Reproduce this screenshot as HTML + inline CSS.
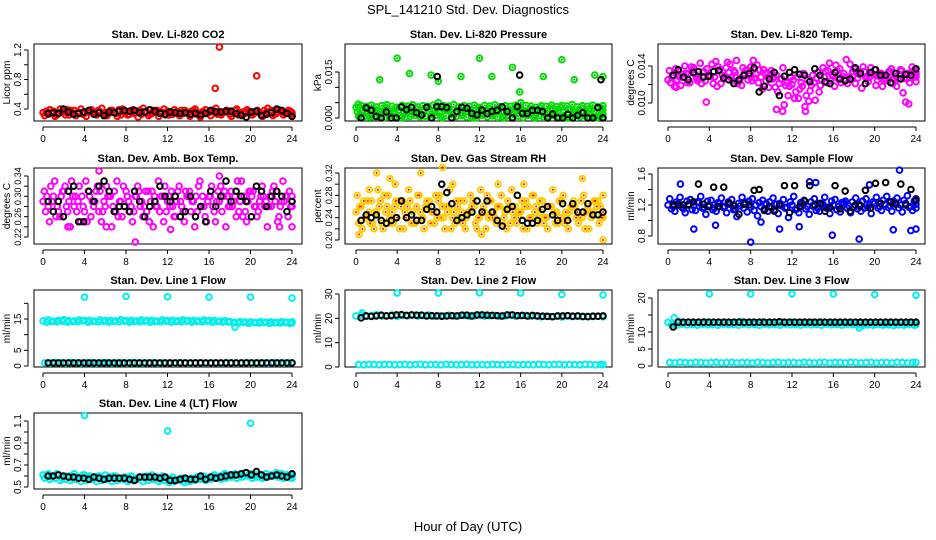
<!DOCTYPE html>
<html><head><meta charset="utf-8"><style>
body{margin:0;background:#fff}
svg{display:block;font-family:"Liberation Sans",sans-serif}
</style></head><body>
<svg id="c" width="936" height="540" viewBox="0 0 936 540">
<text x="468" y="14" font-size="13" text-anchor="middle">SPL_141210  Std. Dev. Diagnostics</text>
<text x="468" y="531" font-size="13" text-anchor="middle">Hour of Day (UTC)</text>
</svg>
<script>
// ---------- data ----------
const xTicks = [0,4,8,12,16,20,24];
const co2Red = [0.35,0.33,0.37,0.34,0.36,0.32,0.38,0.35,0.34,0.37,0.33,0.36,0.35,0.38,0.34,0.32,0.36,0.37,0.35,0.33,0.36,0.34,0.38,0.35,0.37,0.33,0.36,0.34,0.35,0.38,0.32,0.36,0.35,0.37,0.34,0.36,0.33,0.38,0.35,0.34,0.36,0.37,0.33,0.35,0.38,0.34,0.36,0.35,0.33];
const co2Red2 = [0.31,0.39,0.30,0.40,0.32,0.38,0.31,0.40,0.30,0.39,0.32,0.41,0.31,0.38,0.30,0.40,0.32,0.39,0.29,0.41,0.31,0.38,0.30,0.40,0.32,0.39,0.31,0.38,0.30,0.40,0.29,0.39,0.31,0.41,0.32,0.38,0.30,0.40,0.31,0.39,0.32,0.38,0.30,0.41,0.31,0.39,0.32,0.38,0.30];
const co2Red3 = [0.37,0.34,0.32,0.36,0.39,0.34,0.35,0.33,0.37,0.35,0.38,0.33,0.34,0.36,0.39,0.35,0.33,0.34,0.38,0.36,0.33,0.37,0.35,0.32,0.34,0.36,0.38,0.35,0.37,0.33,0.36,0.34,0.38,0.33,0.35,0.37,0.34,0.32,0.36,0.37,0.34,0.35,0.38,0.36,0.33,0.37,0.34,0.37,0.35];
const co2OutX = [16.6,17,20.6];
const co2OutY = [0.68,1.24,0.85];
const co2Black = [0.34,0.35,0.34,0.40,0.36,0.33,0.34,0.36,0.38,0.33,0.35,0.31,0.36,0.35,0.37,0.38,0.37,0.38,0.35,0.36,0.39,0.37,0.34,0.33,0.36,0.35,0.34,0.35,0.33,0.34,0.32,0.34,0.38,0.36,0.36,0.37,0.37,0.34,0.32,0.29,0.36,0.37,0.31,0.33,0.35,0.40,0.38,0.34,0.30];

const presA = [0.0035,0.004,0.0038,0.0042,0.0036,0.004,0.0044,0.0038,0.0035,0.0041,0.0039,0.0043,0.0036,0.004,0.0038,0.0042,0.0037,0.0041,0.0039,0.0044,0.0036,0.004,0.0038,0.0042,0.0035,0.0041,0.0039,0.0043,0.0037,0.004,0.0038,0.0042,0.0036,0.0041,0.0039,0.0035,0.004,0.0038,0.0042,0.0037,0.0041,0.0039,0.0044,0.0036,0.004,0.0038,0.0042,0.0037,0.004];
const presB = [0.002,0.0025,0.0015,0.003,0.0022,0.0018,0.0028,0.002,0.0025,0.0015,0.003,0.0022,0.0018,0.0028,0.002,0.0025,0.0016,0.003,0.0022,0.0018,0.0027,0.002,0.0024,0.0015,0.003,0.0021,0.0018,0.0028,0.002,0.0025,0.0016,0.003,0.0022,0.0019,0.0027,0.002,0.0024,0.0015,0.003,0.0022,0.0018,0.0028,0.002,0.0025,0.0016,0.003,0.0022,0.0018,0.0027];
const presC = [0.0005,0.0002,0.0008,0.0003,0.0006,0.0001,0.0009,0.0004,0.0007,0.0002,0.0005,0.0008,0.0003,0.0006,0.0001,0.0009,0.0004,0.0007,0.0002,0.0005,0.0008,0.0003,0.0006,0.0001,0.0009,0.0004,0.0007,0.0002,0.0005,0.0008,0.0003,0.0006,0.0001,0.0009,0.0004,0.0007,0.0002,0.0005,0.0008,0.0003,0.0006,0.0001,0.0009,0.0004,0.0007,0.0002,0.0005,0.0008,0.0003];
const presD = [0.0012,0.0033,0.0003,0.0027,0.0011,0.0034,0.0014,0.0031,0.0,0.0033,0.0013,0.0029,0.0009,0.0034,0.0012,0.0032,0.0,0.0028,0.0013,0.0033,0.0011,0.0029,0.0,0.0034,0.0014,0.0031,0.0012,0.0033,0.0,0.0028,0.0013,0.0034,0.0011,0.0029,0.0,0.0033,0.0012,0.0031,0.0014,0.0034,0.0,0.0029,0.0011,0.0033,0.0013,0.0028,0.0,0.0032,0.0012];
const presOutX = [0.2,2.3,4,5.2,7.3,8,8,10.2,12,13.2,15.2,15.9,16,18.2,20,21.2,23.2,24];
const presOutY = [0.0045,0.0125,0.0195,0.0145,0.014,0.012,0.005,0.0135,0.0195,0.0135,0.0165,0.0085,0.005,0.0135,0.019,0.0125,0.014,0.0135];
const presBlack = [0.0,0.0033,0.0025,0.0005,0.0,0.002,0.0,0.0,0.0036,0.0027,0.0035,0.0017,0.001,0.0035,0.0,0.0037,0.0037,0.0034,0.0,0.0021,0.0035,0.0032,0.0015,0.001,0.0026,0.0014,0.0022,0.0025,0.0036,0.0021,0.0,0.0037,0.0015,0.0015,0.0025,0.0025,0.0021,0.0,0.0013,0.0,0.0,0.0012,0.0,0.0009,0.0017,0.0,0.0,0.0034,0.0];
const presBOutX = [7.9,15.9,23.8];
const presBOutY = [0.0135,0.014,0.0125];

const tempA = [0.0125,0.013,0.0135,0.0128,0.0132,0.0138,0.0126,0.0134,0.013,0.0128,0.0136,0.0129,0.0142,0.0133,0.0127,0.0135,0.0139,0.0131,0.0128,0.0124,0.0135,0.013,0.0126,0.0122,0.012,0.0128,0.0118,0.0125,0.013,0.0133,0.0138,0.0135,0.0129,0.0126,0.0132,0.0128,0.0137,0.0131,0.0134,0.0128,0.0136,0.0132,0.0127,0.0134,0.0129,0.0136,0.0131,0.0133,0.013];
const tempB = [0.0135,0.0118,0.0128,0.014,0.0122,0.0131,0.0143,0.0124,0.0129,0.0145,0.0121,0.0138,0.0127,0.0146,0.0119,0.0136,0.0124,0.0141,0.0115,0.0133,0.0126,0.0112,0.0138,0.0108,0.0125,0.0105,0.0132,0.0102,0.0122,0.0112,0.0128,0.0143,0.0118,0.0137,0.0126,0.0142,0.0121,0.0134,0.0128,0.0138,0.0119,0.0132,0.0124,0.0137,0.0118,0.0135,0.0126,0.0139,0.0123];
const tempC = [0.0122,0.0137,0.0119,0.0132,0.0139,0.0127,0.0121,0.0137,0.0142,0.0118,0.013,0.0144,0.0124,0.0121,0.0138,0.0125,0.0146,0.0122,0.0136,0.0117,0.0128,0.0121,0.0098,0.0118,0.0105,0.0115,0.0096,0.0113,0.0103,0.0119,0.0134,0.0124,0.0141,0.0122,0.0147,0.0125,0.0133,0.0116,0.0127,0.0132,0.0125,0.0118,0.0129,0.0121,0.0126,0.0111,0.0132,0.0128,0.0133];
const tempD = [0.0128,0.0125,0.0131,0.0122,0.0136,0.0124,0.0133,0.0129,0.0121,0.0139,0.0126,0.0133,0.0135,0.0124,0.0132,0.0129,0.0127,0.0136,0.0132,0.0129,0.0117,0.0126,0.0119,0.0128,0.0112,0.0122,0.0108,0.0119,0.0127,0.0125,0.0122,0.0131,0.0135,0.0129,0.0121,0.0134,0.0127,0.0139,0.0123,0.0131,0.0129,0.0125,0.0134,0.0126,0.0131,0.0127,0.0122,0.0136,0.0128];
const tempOutX = [0.8,3.7,10.5,11.1,13.3,23.0,23.3];
const tempOutY = [0.0117,0.0101,0.0093,0.0091,0.0091,0.0101,0.0099];
const tempBlack = [0.013,0.0136,0.0128,0.0125,0.0133,0.0134,0.0128,0.0129,0.0134,0.0135,0.0127,0.0125,0.0121,0.0125,0.013,0.0132,0.0138,0.0112,0.0118,0.0126,0.0133,0.0108,0.0129,0.0133,0.0136,0.0131,0.013,0.0123,0.0137,0.013,0.0123,0.0121,0.0133,0.0126,0.0124,0.0126,0.0138,0.0132,0.0121,0.0133,0.0136,0.013,0.013,0.0122,0.0132,0.0126,0.0131,0.013,0.0137];

const ambA = [0.29,0.28,0.30,0.27,0.31,0.29,0.28,0.32,0.27,0.30,0.29,0.31,0.28,0.30,0.27,0.29,0.31,0.28,0.30,0.29,0.27,0.31,0.28,0.30,0.29,0.28,0.31,0.27,0.30,0.29,0.32,0.28,0.30,0.27,0.29,0.31,0.28,0.30,0.29,0.27,0.31,0.28,0.30,0.29,0.28,0.31,0.29,0.30,0.28];
const ambB = [0.31,0.25,0.33,0.26,0.32,0.24,0.30,0.25,0.33,0.26,0.31,0.25,0.32,0.24,0.33,0.26,0.30,0.25,0.32,0.26,0.31,0.24,0.33,0.25,0.30,0.26,0.32,0.25,0.31,0.24,0.33,0.26,0.30,0.25,0.32,0.24,0.31,0.26,0.33,0.25,0.30,0.26,0.32,0.24,0.31,0.25,0.33,0.26,0.30];
const ambC = [0.27,0.32,0.26,0.30,0.28,0.33,0.27,0.30,0.25,0.29,0.32,0.27,0.30,0.28,0.26,0.32,0.29,0.27,0.31,0.28,0.25,0.30,0.27,0.32,0.28,0.26,0.29,0.31,0.27,0.30,0.28,0.25,0.32,0.29,0.27,0.30,0.28,0.33,0.26,0.29,0.31,0.27,0.30,0.28,0.32,0.26,0.29,0.31,0.28];
const ambD = [0.30,0.29,0.28,0.31,0.27,0.30,0.29,0.28,0.31,0.28,0.27,0.29,0.30,0.31,0.29,0.28,0.27,0.30,0.28,0.31,0.29,0.28,0.30,0.27,0.31,0.29,0.28,0.30,0.29,0.27,0.30,0.29,0.28,0.31,0.30,0.28,0.29,0.27,0.30,0.31,0.28,0.29,0.28,0.30,0.29,0.28,0.30,0.28,0.29];
const ambOutX = [8.9,5.4,17,2.4,22.8,24,6.1,12.3];
const ambOutY = [0.21,0.35,0.34,0.24,0.24,0.24,0.24,0.235];
const ambBlack = [0.29,0.27,0.29,0.26,0.31,0.32,0.25,0.25,0.31,0.29,0.32,0.33,0.31,0.27,0.28,0.28,0.27,0.31,0.29,0.26,0.28,0.29,0.32,0.30,0.29,0.30,0.26,0.27,0.30,0.26,0.28,0.25,0.31,0.28,0.30,0.33,0.29,0.31,0.30,0.29,0.26,0.32,0.31,0.28,0.30,0.31,0.30,0.27,0.29];

const rhA = [0.25,0.26,0.24,0.27,0.25,0.23,0.26,0.25,0.24,0.27,0.26,0.25,0.28,0.24,0.26,0.25,0.27,0.24,0.26,0.25,0.24,0.27,0.25,0.26,0.24,0.25,0.27,0.24,0.26,0.25,0.23,0.26,0.25,0.27,0.24,0.26,0.25,0.24,0.26,0.25,0.27,0.24,0.26,0.25,0.24,0.26,0.25,0.27,0.24];
const rhB = [0.28,0.22,0.27,0.23,0.29,0.22,0.28,0.23,0.27,0.22,0.29,0.23,0.28,0.22,0.27,0.23,0.28,0.22,0.29,0.23,0.27,0.22,0.28,0.23,0.29,0.22,0.27,0.23,0.28,0.22,0.29,0.23,0.27,0.22,0.28,0.23,0.27,0.22,0.29,0.23,0.28,0.22,0.27,0.23,0.28,0.22,0.27,0.23,0.28];
const rhC = [0.23,0.27,0.25,0.22,0.26,0.28,0.24,0.26,0.22,0.25,0.27,0.23,0.25,0.26,0.23,0.28,0.24,0.26,0.22,0.27,0.25,0.24,0.26,0.22,0.25,0.28,0.24,0.26,0.23,0.27,0.25,0.24,0.22,0.26,0.28,0.24,0.23,0.26,0.25,0.27,0.23,0.25,0.26,0.24,0.22,0.25,0.27,0.26,0.24];
const rhD = [0.26,0.24,0.23,0.25,0.27,0.25,0.23,0.27,0.26,0.24,0.23,0.26,0.24,0.27,0.25,0.24,0.26,0.25,0.24,0.26,0.23,0.25,0.27,0.24,0.26,0.24,0.25,0.26,0.24,0.26,0.24,0.25,0.26,0.24,0.25,0.27,0.24,0.26,0.23,0.24,0.25,0.26,0.24,0.27,0.25,0.24,0.26,0.24,0.25];
const rhOutX = [2,6.3,8.4,3.3,0.3,12.2,22,24,13.8,16.3,1.3,3.8,9.4];
const rhOutY = [0.32,0.32,0.33,0.31,0.21,0.21,0.31,0.2,0.30,0.30,0.29,0.30,0.30];
const rhBlack = [0.235,0.245,0.24,0.245,0.235,0.23,0.235,0.24,0.27,0.24,0.245,0.235,0.235,0.255,0.26,0.25,0.30,0.285,0.265,0.235,0.24,0.245,0.25,0.27,0.25,0.27,0.25,0.235,0.225,0.255,0.26,0.28,0.235,0.23,0.23,0.235,0.255,0.26,0.245,0.235,0.265,0.235,0.265,0.25,0.25,0.265,0.245,0.245,0.25];

const sfA = [1.20,1.18,1.22,1.15,1.21,1.19,1.23,1.17,1.20,1.16,1.22,1.18,1.21,1.15,1.19,1.23,1.17,1.20,1.18,1.22,1.16,1.21,1.19,1.17,1.20,1.15,1.22,1.18,1.19,1.16,1.21,1.17,1.20,1.18,1.23,1.19,1.17,1.21,1.16,1.20,1.22,1.18,1.21,1.19,1.23,1.20,1.22,1.18,1.21];
const sfB = [1.28,1.12,1.30,1.10,1.27,1.13,1.31,1.08,1.26,1.12,1.29,1.10,1.27,1.05,1.30,1.11,1.28,1.06,1.26,1.12,1.29,1.09,1.27,1.04,1.31,1.10,1.26,1.08,1.28,1.12,1.30,1.09,1.27,1.11,1.25,1.10,1.29,1.12,1.28,1.09,1.30,1.13,1.31,1.12,1.29,1.11,1.32,1.13,1.28];
const sfC = [1.15,1.24,1.17,1.25,1.14,1.24,1.16,1.25,1.14,1.23,1.17,1.24,1.14,1.22,1.16,1.25,1.13,1.23,1.15,1.24,1.14,1.22,1.16,1.24,1.14,1.23,1.15,1.24,1.13,1.22,1.16,1.25,1.14,1.23,1.16,1.24,1.15,1.25,1.17,1.24,1.16,1.26,1.17,1.25,1.16,1.26,1.17,1.25,1.16];
const sfOutX = [1.2,8,2.5,15.9,18.5,21.8,22.4,23.5,24,13.7,14.3,10.8,19.5,4.6,12.7,9];
const sfOutY = [1.47,0.72,0.89,0.81,0.76,0.88,1.65,0.87,0.89,1.5,1.49,0.89,1.46,0.94,0.92,0.98];
const sfBlack = [1.2,1.2,1.2,1.2,1.24,1.47,1.21,1.18,1.43,1.18,1.43,1.22,1.19,1.08,1.21,1.20,1.39,1.40,1.13,1.18,1.12,1.20,1.45,1.10,1.45,1.18,1.25,1.45,1.20,1.22,1.12,1.17,1.45,1.15,1.38,1.12,1.20,1.19,1.39,1.16,1.48,1.22,1.49,1.24,1.21,1.47,1.20,1.40,1.26];

const l1A = [14.4,14.7,14.3,14.6,14.8,14.5,14.4,14.7,14.5,14.6,14.3,14.7,14.5,14.6,14.4,14.8,14.5,14.6,14.4,14.7,14.5,14.6,14.3,14.7,14.5,14.6,14.4,14.7,14.5,14.6,14.4,14.7,14.5,14.6,14.3,14.5,14.2,13.9,14.2,14.0,14.1,13.9,14.2,14.0,14.1,13.9,14.2,14.0,14.1];
const l1B = [1.0,0.9,1.1,1.0,0.9,1.1,1.0,0.9,1.0,1.1,0.9,1.0,1.1,0.9,1.0,1.0,0.9,1.1,1.0,0.9,1.0,1.1,0.9,1.0,1.0,0.9,1.1,1.0,0.9,1.0,1.1,0.9,1.0,1.0,0.9,1.1,1.0,0.9,1.0,1.1,0.9,1.0,1.0,0.9,1.1,1.0,0.9,1.0,1.0];
const l1C = [14.0,14.2,14.1,14.3,14.0,14.2,14.1,14.4,14.0,14.2,14.1,14.3,14.0,14.2,14.1,14.3,14.0,14.2,14.1,14.3,14.0,14.2,14.1,14.3,14.0,14.2,14.1,14.3,14.0,14.2,14.1,14.3,14.0,14.2,14.0,14.1,13.8,13.7,13.9,13.6,13.8,13.7,13.9,13.6,13.8,13.7,13.9,13.6,13.8];
const l1OutX = [4,8,12,16,20,24,18.5];
const l1OutY = [22,22.2,22.1,22,22,21.7,12.4];
const l1Black = [1,1,1,1,1,1,1,1,1,1,1,1,1,1,1,1,1,1,1,1,1,1,1,1,1,1,1,1,1,1,1,1,1,1,1,1,1,1,1,1,1,1,1,1,1,1,1,1,1];

const l2A = [21.0,21.3,20.8,21.2,21.5,20.9,21.1,21.4,20.8,21.2,21.0,21.3,20.9,21.1,21.4,20.8,21.2,21.0,21.3,20.9,21.1,21.2,20.8,21.0,21.3,20.9,21.1,21.2,20.8,21.0,21.3,20.9,21.1,21.2,20.8,21.0,20.6,20.9,20.7,20.8,20.5,21.0,20.7,20.8,20.6,20.9,20.7,20.8,20.6];
const l2B = [1.0,0.9,1.1,1.0,0.9,1.1,1.0,0.9,1.0,1.1,0.9,1.0,1.1,0.9,1.0,1.0,0.9,1.1,1.0,0.9,1.0,1.1,0.9,1.0,1.0,0.9,1.1,1.0,0.9,1.0,1.1,0.9,1.0,1.0,0.9,1.1,1.0,0.9,1.0,1.1,0.9,1.0,1.0,0.9,1.1,1.0,0.9,1.0,1.0];
const l2OutX = [4,8,12,16,20,24,0.6];
const l2OutY = [30.4,30.4,30.5,30.4,29.8,29.6,22.2];
const l2Black = [20.2,21.0,20.8,21.0,21.3,21.0,21.1,21.4,21.5,21.2,21.4,21.3,21.3,21.0,21.1,21.0,20.9,21.0,21.1,21.0,21.3,21.3,21.0,21.4,21.4,21.3,21.2,21.1,21.0,21.4,21.4,21.1,21.2,21.0,21.2,21.0,20.9,20.8,20.7,21.0,21.0,21.1,20.9,21.0,20.8,20.7,20.9,20.9,21.0];

const l3A = [12.8,12.5,13.2,12.6,12.9,12.4,12.7,13.0,12.5,12.8,12.6,12.9,12.4,12.7,13.1,12.5,12.8,12.6,12.9,12.4,12.7,12.5,12.8,12.6,12.9,12.4,12.7,12.5,12.8,12.6,12.9,12.4,12.7,12.5,12.8,12.6,12.3,12.6,12.4,12.7,12.5,12.8,12.4,12.6,12.5,12.7,12.4,12.6,12.5];
const l3B = [1.0,0.9,1.1,1.0,0.9,1.1,1.0,0.9,1.0,1.1,0.9,1.0,1.1,0.9,1.0,1.0,0.9,1.1,1.0,0.9,1.0,1.1,0.9,1.0,1.0,0.9,1.1,1.0,0.9,1.0,1.1,0.9,1.0,1.0,0.9,1.1,1.0,0.9,1.0,1.1,0.9,1.0,1.0,0.9,1.1,1.0,0.9,1.0,1.0];
const l3C = [12.2,12.0,12.3,12.1,12.2,12.0,12.3,12.1,12.2,12.0,12.3,12.1,12.2,12.0,12.3,12.1,12.2,12.0,12.3,12.1,12.2,12.0,12.3,12.1,12.2,12.0,12.3,12.1,12.2,12.0,12.3,12.1,12.2,12.0,12.3,12.1,12.0,11.9,12.1,12.0,12.2,12.0,12.1,11.9,12.1,12.0,12.2,12.0,12.1];
const l3OutX = [4,8,12,16,20,24,0.6,18.5];
const l3OutY = [21.2,21.2,21.2,21.2,21,20.8,14.2,11.2];
const l3Black = [11.5,12.9,12.9,12.9,12.9,12.9,12.9,12.9,12.9,12.9,12.9,12.9,12.9,12.9,12.9,12.9,12.9,12.9,12.9,12.9,12.9,13.0,12.9,12.9,12.9,12.9,12.9,12.9,12.9,12.9,12.9,12.9,12.9,12.9,12.9,12.9,12.9,12.9,12.9,12.9,12.9,12.9,12.9,12.9,12.9,12.9,12.9,12.9,12.9];

const l4A = [0.61,0.62,0.60,0.61,0.59,0.60,0.62,0.59,0.61,0.60,0.58,0.60,0.61,0.59,0.60,0.58,0.59,0.60,0.58,0.59,0.60,0.61,0.59,0.60,0.58,0.59,0.57,0.58,0.56,0.57,0.59,0.60,0.58,0.61,0.60,0.62,0.61,0.62,0.61,0.63,0.62,0.61,0.60,0.62,0.61,0.63,0.62,0.61,0.60];
const l4B = [0.58,0.57,0.58,0.56,0.57,0.56,0.57,0.55,0.56,0.57,0.55,0.56,0.57,0.55,0.56,0.57,0.55,0.56,0.57,0.55,0.56,0.57,0.55,0.56,0.54,0.55,0.56,0.54,0.55,0.56,0.57,0.56,0.57,0.58,0.57,0.58,0.59,0.58,0.59,0.60,0.58,0.59,0.58,0.59,0.60,0.59,0.58,0.59,0.58];
const l4C = [0.60,0.59,0.62,0.58,0.60,0.58,0.59,0.61,0.58,0.59,0.60,0.57,0.59,0.60,0.58,0.59,0.58,0.57,0.59,0.58,0.58,0.59,0.57,0.58,0.57,0.57,0.58,0.56,0.58,0.59,0.58,0.58,0.60,0.59,0.61,0.60,0.60,0.61,0.60,0.61,0.60,0.61,0.59,0.60,0.61,0.60,0.61,0.60,0.61];
const l4OutX = [4,12,20];
const l4OutY = [1.15,1.01,1.08];
const l4Black = [0.60,0.60,0.61,0.60,0.59,0.59,0.58,0.58,0.57,0.59,0.58,0.57,0.58,0.58,0.58,0.58,0.57,0.56,0.59,0.59,0.59,0.59,0.58,0.59,0.56,0.56,0.57,0.58,0.57,0.57,0.60,0.57,0.59,0.58,0.59,0.60,0.61,0.61,0.62,0.63,0.61,0.64,0.61,0.59,0.60,0.61,0.60,0.59,0.62];

// ---------- layout ----------
const svg = document.getElementById('c');
const NS = 'http://www.w3.org/2000/svg';
function mk(tag, attrs, parent){const e=document.createElementNS(NS,tag);for(const k in attrs)e.setAttribute(k,attrs[k]);(parent||svg).appendChild(e);return e;}
const cols = [{l:34,r:302,x0:43,x24:292},{l:345,r:612,x0:356,x24:603},{l:658,r:925,x0:668,x24:916}];
const rows = [{t:44,b:121},{t:168,b:244},{t:290,b:367},{t:413,b:489}];

function panel(o){
  const c=cols[o.col], r=rows[o.row];
  const g=mk('g',{});
  
  
  const xs=h=>c.x0+(c.x24-c.x0)*h/24;
  const ys=v=>o.p0+(o.p1-o.p0)*(v-o.v0)/(o.v1-o.v0);
  const ttl=mk('text',{x:(c.l+c.r)/2,y:r.t-6,'font-size':11,'font-weight':'bold','text-anchor':'middle'},g);
  ttl.textContent=o.title;
  
  
  const box=mk('rect',{x:c.l,y:r.t,width:c.r-c.l,height:r.b-r.t,fill:'none',stroke:'#000','stroke-width':1},g);
  
  
  const axy=r.b+6;
  mk('line',{x1:xs(0),x2:xs(24),y1:axy,y2:axy,stroke:'#000'},g);
  xTicks.forEach(t=>{
    mk('line',{x1:xs(t),x2:xs(t),y1:axy,y2:axy+4,stroke:'#000'},g);
    const tx=mk('text',{x:xs(t),y:axy+15,'font-size':10,'text-anchor':'middle'},g);
    tx.textContent=t;
    
    
  });
  const axx=c.l-6;
  mk('line',{x1:axx,x2:axx,y1:ys(o.ticks[0]),y2:ys(o.ticks[o.ticks.length-1]),stroke:'#000'},g);
  o.ticks.forEach(t=>mk('line',{x1:axx-4,x2:axx,y1:ys(t),y2:ys(t),stroke:'#000'},g));
  o.labels.forEach(t=>{
    const y=ys(t);
    const tx=mk('text',{x:axx-7,y:y,'font-size':o.lfs||10,'text-anchor':'middle',transform:`rotate(-90 ${axx-7} ${y})`},g);
    tx.textContent=o.fmt(t);
    
    
  });
  const yt=mk('text',{x:c.l-24,y:(r.t+r.b)/2,'font-size':10,'text-anchor':'middle',transform:`rotate(-90 ${c.l-24} ${(r.t+r.b)/2})`},g);
  yt.textContent=o.ylab;
  
  
  const dots=(xsArr,vals,col,dot,nm)=>{
    vals.forEach((v,i)=>{
      const cx=xs(xsArr(i)), cy=ys(v);
      const p=mk('circle',{cx:cx,cy:cy,r:2.8,fill:'none',stroke:col,'stroke-width':2},g);
      
      
      if(dot) mk('circle',{cx:cx,cy:cy,r:1,fill:dot},g);
    });
  };
  const n=o.clouds.length;
  o.clouds.forEach((arr,k)=>dots(i=>Math.min(24,i*0.5+k*0.5/n),arr,o.color,o.dot,'cloud-point'));
  dots(i=>o.outX[i],o.outY,o.color,o.dot,'outlier-point');
  dots(i=>0.5+i*23.5/48,o.black,'#000',null,'black-point');
  if(o.bOutX) dots(i=>o.bOutX[i],o.bOutY,'#000',null,'black-outlier');
}
const f1=v=>v.toFixed(1), f2=v=>v.toFixed(2), f3=v=>v.toFixed(3), f0=v=>String(v);
panel({name:'panel-co2',col:0,row:0,title:'Stan. Dev. Li-820 CO2',ylab:'Licor ppm',v0:1.2,p0:50,v1:0.4,p1:109,ticks:[0.4,0.6,0.8,1.0,1.2],labels:[0.4,0.8,1.2],fmt:f1,color:'#f00',clouds:[co2Red,co2Red2,co2Red3],outX:co2OutX,outY:co2OutY,black:co2Black});
panel({name:'panel-pressure',col:1,row:0,title:'Stan. Dev. Li-820 Pressure',ylab:'kPa',v0:0.015,p0:72,v1:0,p1:118,ticks:[0,0.005,0.01,0.015],labels:[0,0.015],fmt:f3,color:'#0d0',dot:'#0a0',clouds:[presA,presB,presC,presD],outX:presOutX,outY:presOutY,black:presBlack,bOutX:presBOutX,bOutY:presBOutY});
panel({name:'panel-temp',col:2,row:0,title:'Stan. Dev. Li-820 Temp.',ylab:'degrees C',v0:0.014,p0:66,v1:0.010,p1:103,ticks:[0.010,0.012,0.014],labels:[0.010,0.014],fmt:f3,color:'#f0f',clouds:[tempA,tempB,tempC,tempD],outX:tempOutX,outY:tempOutY,black:tempBlack});
panel({name:'panel-amb-box',col:0,row:1,title:'Stan. Dev. Amb. Box Temp.',ylab:'degrees C',v0:0.34,p0:176,v1:0.22,p1:237,ticks:[0.22,0.24,0.26,0.28,0.30,0.32,0.34],labels:[0.22,0.26,0.30,0.34],fmt:f2,lfs:9,color:'#f0f',clouds:[ambA,ambB,ambC,ambD],outX:ambOutX,outY:ambOutY,black:ambBlack});
panel({name:'panel-rh',col:1,row:1,title:'Stan. Dev. Gas Stream RH',ylab:'percent',v0:0.32,p0:173,v1:0.20,p1:240,ticks:[0.20,0.22,0.24,0.26,0.28,0.30,0.32],labels:[0.20,0.24,0.28,0.32],fmt:f2,lfs:9,color:'#fc0',dot:'#f00',clouds:[rhA,rhB,rhC,rhD],outX:rhOutX,outY:rhOutY,black:rhBlack});
panel({name:'panel-sample-flow',col:2,row:1,title:'Stan. Dev. Sample Flow',ylab:'ml/min',v0:1.6,p0:174,v1:0.8,p1:236,ticks:[0.8,1.0,1.2,1.4,1.6],labels:[0.8,1.2,1.6],fmt:f1,color:'#00f',clouds:[sfA,sfB,sfC],outX:sfOutX,outY:sfOutY,black:sfBlack});
panel({name:'panel-line1',col:0,row:2,title:'Stan. Dev. Line 1 Flow',ylab:'ml/min',v0:15,p0:319,v1:0,p1:366,ticks:[0,5,10,15,20],labels:[0,5,15],fmt:f0,color:'#0ee',clouds:[l1A,l1B,l1C],outX:l1OutX,outY:l1OutY,black:l1Black});
panel({name:'panel-line2',col:1,row:2,title:'Stan. Dev. Line 2 Flow',ylab:'ml/min',v0:30,p0:294,v1:0,p1:367,ticks:[0,10,20,30],labels:[0,10,20,30],fmt:f0,color:'#0ee',clouds:[l2A,l2B],outX:l2OutX,outY:l2OutY,black:l2Black});
panel({name:'panel-line3',col:2,row:2,title:'Stan. Dev. Line 3 Flow',ylab:'ml/min',v0:20,p0:298,v1:0,p1:366,ticks:[0,5,10,15,20],labels:[0,5,10,20],fmt:f0,color:'#0ee',clouds:[l3A,l3B,l3C],outX:l3OutX,outY:l3OutY,black:l3Black});
panel({name:'panel-line4',col:0,row:3,title:'Stan. Dev. Line 4 (LT) Flow',ylab:'ml/min',v0:1.1,p0:421,v1:0.5,p1:487,ticks:[0.5,0.6,0.7,0.8,0.9,1.0,1.1],labels:[0.5,0.7,0.9,1.1],fmt:f1,color:'#0ee',clouds:[l4A,l4B,l4C],outX:l4OutX,outY:l4OutY,black:l4Black});
</script>
</body></html>
